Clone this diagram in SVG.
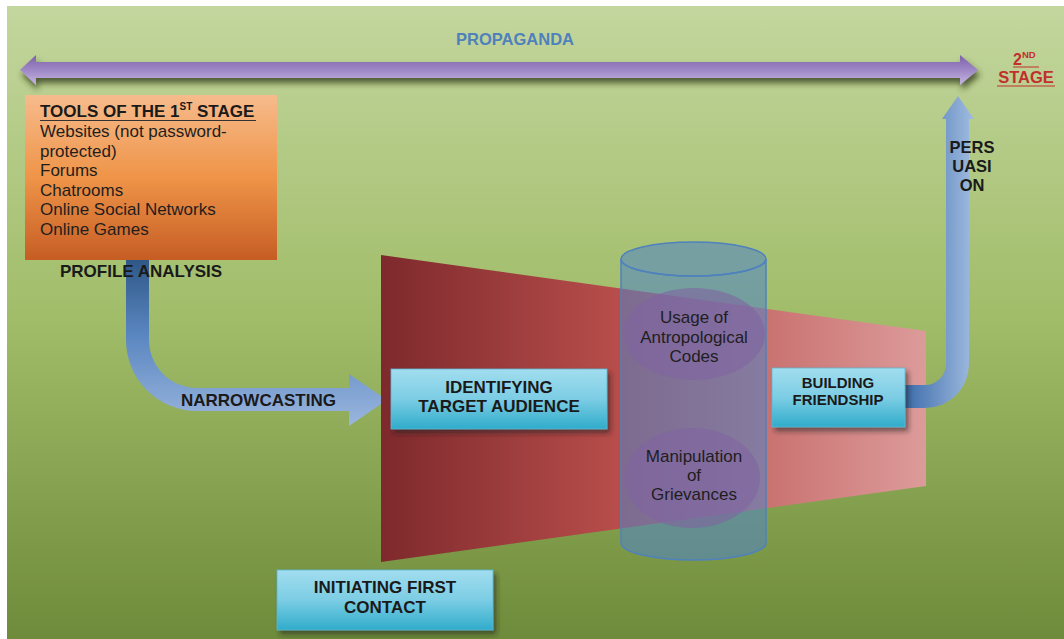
<svg xmlns="http://www.w3.org/2000/svg" width="1064" height="639" viewBox="0 0 1064 639">
<defs>
<linearGradient id="bg" x1="0" y1="0" x2="0" y2="1"><stop offset="0" stop-color="#c3d69e"/><stop offset="0.5" stop-color="#a0bc68"/><stop offset="1" stop-color="#6e8b3b"/></linearGradient>
<linearGradient id="purp" x1="0" y1="0" x2="0" y2="1"><stop offset="0" stop-color="#7d60aa"/><stop offset="0.5" stop-color="#9e88c6"/><stop offset="1" stop-color="#c6b6e0"/></linearGradient>
<linearGradient id="orange" x1="0" y1="0" x2="0" y2="1"><stop offset="0" stop-color="#f6bb8c"/><stop offset="0.5" stop-color="#ef9448"/><stop offset="1" stop-color="#c65d24"/></linearGradient>
<linearGradient id="cyan" x1="0" y1="0" x2="0" y2="1"><stop offset="0" stop-color="#a2ddef"/><stop offset="0.5" stop-color="#7ccde4"/><stop offset="1" stop-color="#30accb"/></linearGradient>
<linearGradient id="red" gradientUnits="userSpaceOnUse" x1="381" y1="0" x2="926" y2="0"><stop offset="0" stop-color="#7e292c"/><stop offset="0.45" stop-color="#b94f4c"/><stop offset="1" stop-color="#dc9b9a"/></linearGradient>
<linearGradient id="narrow" gradientUnits="userSpaceOnUse" x1="0" y1="260" x2="0" y2="426"><stop offset="0" stop-color="#2f5888"/><stop offset="0.45" stop-color="#5a86c0"/><stop offset="1" stop-color="#9ab6de"/></linearGradient>
<linearGradient id="pers" gradientUnits="userSpaceOnUse" x1="905" y1="0" x2="975" y2="0"><stop offset="0" stop-color="#3d6cab"/><stop offset="1" stop-color="#a2bde1"/></linearGradient>
<filter id="sh" x="-10%" y="-30%" width="120%" height="180%"><feDropShadow dx="2" dy="5" stdDeviation="3" flood-color="#2a3318" flood-opacity="0.75"/></filter>
<filter id="bsh" x="-10%" y="-20%" width="125%" height="150%"><feDropShadow dx="3" dy="4" stdDeviation="2.5" flood-color="#222" flood-opacity="0.55"/></filter>
<style>
.b{font-family:"Liberation Sans",Arial,sans-serif;font-weight:bold;fill:#1a1a1a;}
.r{font-family:"Liberation Sans",Arial,sans-serif;fill:#1e1e1e;}
.box{fill:url(#cyan);stroke:#5cb6d0;stroke-width:0.8;filter:url(#bsh);}
.ell{fill:#8064a2;fill-opacity:0.6;}
.cyl{fill:#4f84c8;fill-opacity:0.55;stroke:#4f81bd;stroke-width:1.5;}
</style>
</defs>
<rect x="7" y="6" width="1057" height="633" fill="url(#bg)"/>

<g id="connectors">
<path id="propaganda-arrow" d="M20,70 L36,55 L36,62 L960,62 L960,55 L978,70 L960,85 L960,78 L36,78 L36,85 Z" fill="url(#purp)" filter="url(#sh)"/>
<path id="narrowcasting-arrow" d="M126,260 L149,260 L149,340 A48,48 0 0 0 197,388 L349,388 L349,374 L387,400 L349,426 L349,411 L197,411 A71,71 0 0 1 126,340 Z" fill="url(#narrow)"/>
</g>

<text class="b" x="515" y="45" text-anchor="middle" font-size="16.5" style="fill:#4f81bd">PROPAGANDA</text>

<g id="second-stage">
<text class="b" x="1013" y="65" font-size="16" style="fill:#c0302d">2<tspan font-size="9.5" dy="-7">ND</tspan></text>
<line x1="1013" y1="67" x2="1039" y2="67" stroke="#c0302d" stroke-width="1"/>
<text class="b" x="1026" y="83" text-anchor="middle" font-size="16.5" style="fill:#c0302d">STAGE</text>
<line x1="997" y1="86" x2="1055" y2="86" stroke="#c0302d" stroke-width="1"/>
</g>

<g id="tools">
<rect x="25" y="95" width="252" height="165" fill="url(#orange)"/>
<text class="b" x="40" y="117" font-size="17">TOOLS OF THE 1<tspan font-size="10" dy="-7">ST</tspan><tspan dy="7"> STAGE</tspan></text>
<line x1="40" y1="120.5" x2="256" y2="120.5" stroke="#333" stroke-width="1"/>
<text class="r" x="40" y="137" font-size="17">Websites (not password-</text>
<text class="r" x="40" y="157" font-size="17">protected)</text>
<text class="r" x="40" y="176" font-size="17">Forums</text>
<text class="r" x="40" y="196" font-size="17">Chatrooms</text>
<text class="r" x="40" y="215" font-size="17">Online Social Networks</text>
<text class="r" x="40" y="235" font-size="17">Online Games</text>
</g>

<text class="b" x="60" y="277" font-size="17">PROFILE ANALYSIS</text>
<text class="b" x="181" y="406" font-size="17">NARROWCASTING</text>

<path id="funnel" d="M381,255 L926,331 L926,486 L381,562 Z" fill="url(#red)"/>

<g id="persuasion">
<path d="M905,385 L925,385 A21,21 0 0 0 946,364 L946,119 L942,119 L958,96 L974,119 L969,119 L969,364 A44,44 0 0 1 925,408 L905,408 Z" fill="url(#pers)"/>
<text class="b" x="972" y="153" text-anchor="middle" font-size="16.5">PERS</text>
<text class="b" x="972" y="172" text-anchor="middle" font-size="16.5">UASI</text>
<text class="b" x="972" y="191" text-anchor="middle" font-size="16.5">ON</text>
</g>

<g id="identifying">
<rect class="box" x="391" y="369" width="216" height="60"/>
<text class="b" x="499" y="393" text-anchor="middle" font-size="17">IDENTIFYING</text>
<text class="b" x="499" y="412" text-anchor="middle" font-size="17">TARGET AUDIENCE</text>
</g>

<g id="cylinder">
<path class="cyl" d="M621,259 V543 A72.5,17 0 0 0 766,543 V259 A72.5,17 0 0 1 621,259 Z"/>
<ellipse class="cyl" cx="693.5" cy="259" rx="72.5" ry="17"/>
</g>

<g id="usage">
<ellipse class="ell" cx="694" cy="334" rx="71" ry="46"/>
<text class="r" x="694" y="323" text-anchor="middle" font-size="17">Usage of</text>
<text class="r" x="694" y="343" text-anchor="middle" font-size="17">Antropological</text>
<text class="r" x="694" y="362" text-anchor="middle" font-size="17">Codes</text>
</g>

<g id="manipulation">
<ellipse class="ell" cx="692" cy="478" rx="68" ry="50"/>
<text class="r" x="694" y="462" text-anchor="middle" font-size="17">Manipulation</text>
<text class="r" x="694" y="481" text-anchor="middle" font-size="17">of</text>
<text class="r" x="694" y="500" text-anchor="middle" font-size="17">Grievances</text>
</g>

<g id="building">
<rect class="box" x="772" y="368" width="133" height="59"/>
<text class="b" x="838" y="388" text-anchor="middle" font-size="15">BUILDING</text>
<text class="b" x="838" y="405" text-anchor="middle" font-size="15">FRIENDSHIP</text>
</g>

<g id="initiating">
<rect class="box" x="277" y="570" width="216" height="60"/>
<text class="b" x="385" y="593" text-anchor="middle" font-size="17">INITIATING FIRST</text>
<text class="b" x="385" y="613" text-anchor="middle" font-size="17">CONTACT</text>
</g>
</svg>
